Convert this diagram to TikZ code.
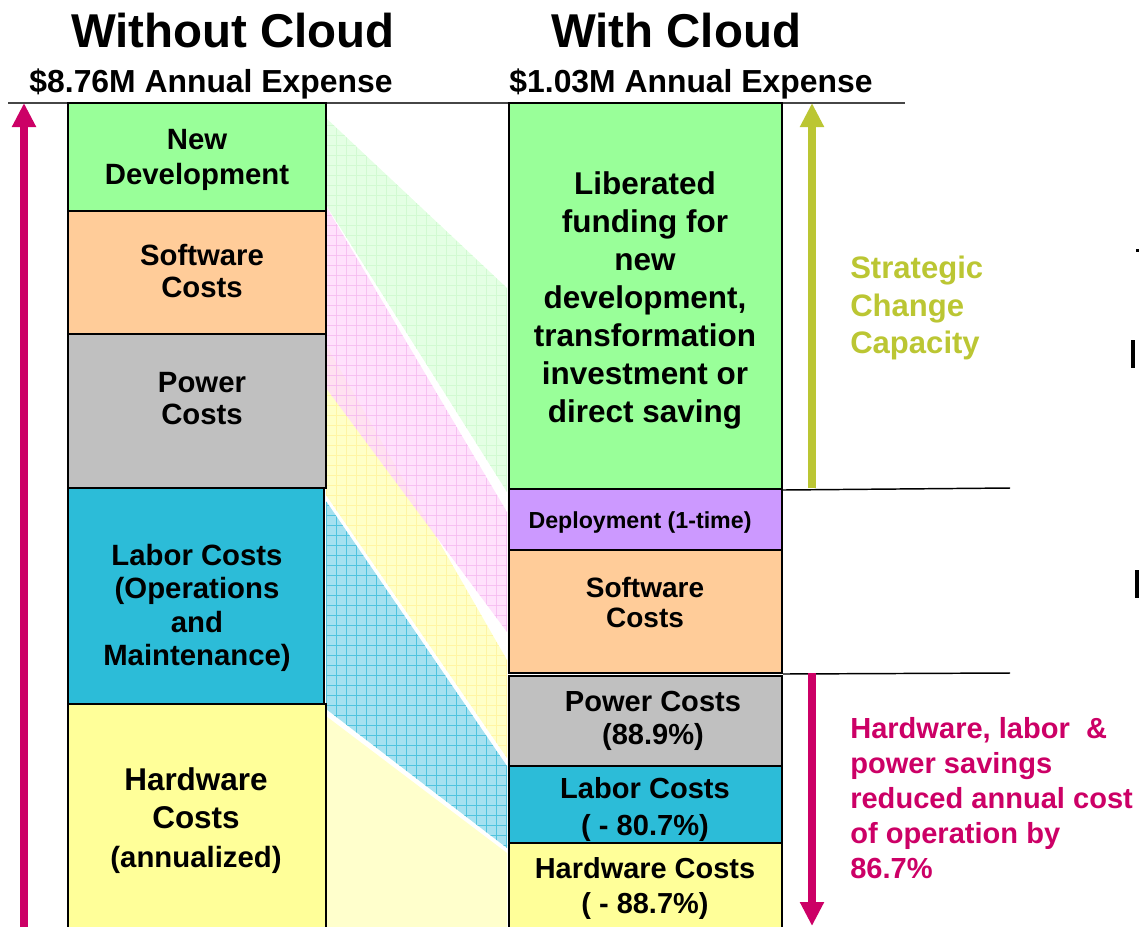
\documentclass[tikz,border=0pt]{standalone}
\usepackage{fontspec}
\setmainfont{Liberation Sans}
\usetikzlibrary{fit,arrows.meta}
\definecolor{cgreen}{RGB}{153,255,153}
\definecolor{corange}{RGB}{255,204,153}
\definecolor{cgray}{RGB}{192,192,192}
\definecolor{ccyan}{RGB}{44,188,216}
\definecolor{cyellow}{RGB}{255,255,153}
\definecolor{cpurple}{RGB}{204,153,255}
\definecolor{cmagenta}{RGB}{204,0,102}
\definecolor{colive}{RGB}{187,198,51}
\definecolor{bgreen}{RGB}{228,255,228}
\definecolor{bgreenl}{RGB}{210,250,210}
\definecolor{bpink}{RGB}{255,218,251}
\definecolor{bpinkl}{RGB}{246,185,240}
\definecolor{byellow}{RGB}{255,255,200}
\definecolor{byellowl}{RGB}{255,245,165}
\definecolor{bcyan}{RGB}{165,225,240}
\definecolor{bcyanl}{RGB}{80,195,222}
\definecolor{bhw}{RGB}{255,255,204}
\definecolor{rulegray}{RGB}{70,70,70}
\newcommand{\mybandgrid}[3]{%
  \fill[#2] #1;
  \begin{scope}
    \clip #1;
    \foreach \gx in {326,336,...,516} {\draw[#3,line width=0.5pt] (\gx,95) -- (\gx,935);}
    \foreach \gy in {95,105,...,935} {\draw[#3,line width=0.5pt] (320,\gy) -- (515,\gy);}
  \end{scope}}
\tikzset{
  boxstyle/.style={draw=black, line width=1.5pt, inner sep=0pt},
  txt/.style={inner sep=0pt, align=center, text=black},
  fs/.style 2 args={font=\bfseries\fontsize{#1}{#2}\selectfont},
  arr/.style={line width=6pt, -{Triangle[width=17pt,length=18pt]}},
  sepline/.style={draw=black, line width=1.1pt},
}
\begin{document}
\begin{tikzpicture}[x=0.75pt,y=-0.75pt]
\useasboundingbox (0,0) rectangle (1139,926);

% bands
\mybandgrid{(326,118) -- (507,288) -- (507,492) -- (326,205) -- cycle}{bgreen}{bgreenl}
\mybandgrid{(326,345) -- (507,660) -- (507,758) -- (326,495) -- cycle}{byellow}{byellowl}
\begin{scope}[opacity=0.8]
\mybandgrid{(326,206) -- (507,512) -- (507,632) -- (326,388) -- cycle}{bpink}{bpinkl}
\end{scope}
\mybandgrid{(326,501) -- (507,766) -- (507,848) -- (326,709) -- cycle}{bcyan}{bcyanl}
\fill[bhw] (326,716) -- (507,853) -- (507,935) -- (326,935) -- cycle;

% top rule
\draw[draw=rulegray, line width=1.5pt] (8,103) -- (905,103);

% left column
\node[boxstyle, fill=cgreen,  fit={(68,103)(326,211)}] (nd) {};
\node[boxstyle, fill=corange, fit={(68,211)(326,334)}] (swl) {};
\node[boxstyle, fill=cgray,   fit={(68,334)(326,488)}] (pwl) {};
\node[boxstyle, fill=ccyan,   fit={(68,488)(324,704)}] (lbl) {};
\node[boxstyle, fill=cyellow, fit={(68,704)(326,945)}] (hwl) {};

% right column
\node[boxstyle, fill=cgreen,  fit={(509,103)(782,489)}] (lib) {};
\node[boxstyle, fill=cpurple, fit={(509,489)(782,550)}] (dep) {};
\node[boxstyle, fill=corange, fit={(509,550)(782,673)}] (swr) {};
\node[boxstyle, fill=cgray,   fit={(509,676)(782,766)}] (pwr) {};
\node[boxstyle, fill=ccyan,   fit={(509,766)(782,843)}] (lbr) {};
\node[boxstyle, fill=cyellow, fit={(509,843)(782,945)}] (hwr) {};

% separator lines at right
\coordinate (s1) at (1010,488);
\coordinate (s2) at (1010,673);
\draw[sepline] (lib.south east) -- (s1);
\draw[sepline] (swr.south east) -- (s2);

% arrows
\coordinate (la0) at (24,935);
\coordinate (la1) at (24,103);
\draw[arr, draw=cmagenta, color=cmagenta] (la0) -- (la1);
\coordinate (oa0) at (812,488);
\coordinate (oa1) at (812,103);
\draw[arr, draw=colive, color=colive] (oa0) -- (oa1);
\coordinate (ma0) at (812,673);
\coordinate (ma1) at (812,926);
\draw[arr, draw=cmagenta, color=cmagenta] (ma0) -- (ma1);

% headers
\node[txt, fs={35.6}{40}, anchor=base] (h1) at (233,47) {Without Cloud};
\node[txt, fs={35.6}{40}, anchor=base] (h2) at (676,47) {With Cloud};
\node[txt, fs={23.9}{28}, anchor=base] (s1t) at (211,92) {\$8.76M Annual Expense};
\node[txt, fs={23.9}{28}, anchor=base] (s2t) at (691,92) {\$1.03M Annual Expense};

% left texts
\node[txt, fs={22}{26.25}, anchor=north] (ndt) at (197,129) {New\\Development};
\node[txt, fs={22}{24}, anchor=north] (swlt) at (202,244) {Software\\Costs};
\node[txt, fs={22}{24}, anchor=north] (pwlt) at (202,372) {Power\\Costs};
\node[txt, fs={22}{25}, anchor=north] (lblt) at (197,544) {Labor Costs\\(Operations\\and\\Maintenance)};
\node[txt, fs={23.6}{28.9}, anchor=north] (hwlt) at (196,767) {Hardware\\Costs\\{\fontsize{22}{28.9}\selectfont (annualized)}};

% right texts
\node[txt, fs={23.6}{28.5}, anchor=north] (libt) at (645,171) {Liberated\\funding for\\new\\development,\\transformation\\investment or\\direct saving};
\node[txt, fs={17.4}{20}, anchor=base] (dept) at (640,528) {Deployment (1-time)};
\node[txt, fs={21}{22.5}, anchor=north] (swrt) at (645,577) {Software\\Costs};
\node[txt, fs={21.8}{24.75}, anchor=north] (pwrt) at (653,691) {Power Costs\\(88.9\%)};
\node[txt, fs={21.8}{27.75}, anchor=north] (lbrt) at (645,777) {Labor Costs\\( - 80.7\%)};
\node[txt, fs={21.7}{26.25}, anchor=north] (hwrt) at (645,857) {Hardware Costs\\( - 88.7\%)};

% side labels
\node[txt, align=left, fs={23.3}{28.1}, text=colive, anchor=north west] (sc) at (850,256) {Strategic\\Change\\Capacity};
\node[txt, align=left, fs={21.8}{26.25}, text=cmagenta, anchor=north west] (hs) at (850,717) {Hardware, labor\ \ \&\\power savings\\reduced annual cost\\of operation by\\86.7\%};

% clipped fragments at right edge
\fill[black] (1136,249) rectangle (1139,252);
\fill[black] (1131,340) rectangle (1135,368);
\fill[black] (1135,570) rectangle (1139,598);
\end{tikzpicture}
\end{document}
